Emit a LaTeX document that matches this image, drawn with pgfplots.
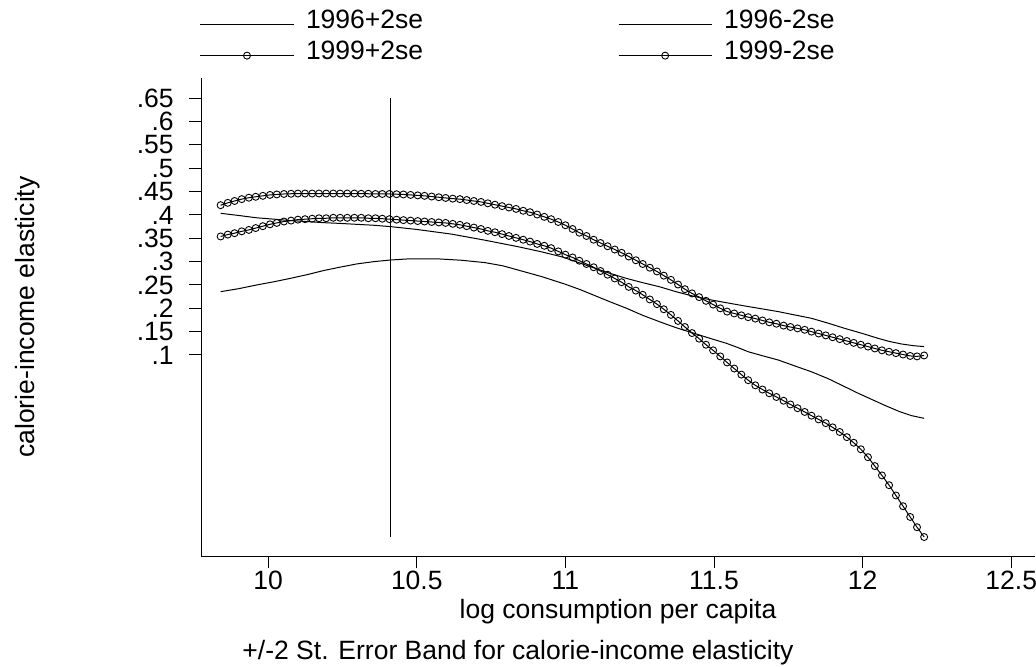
\documentclass[border=0pt]{standalone}
\usepackage{fontspec}
\setmainfont{Liberation Sans}
\usepackage{pgfplots}
\usepackage{pgfplotstable}
\pgfplotsset{compat=1.18}

% 1999 series: x, +2se (A), -2se (B)
\pgfplotstableread{
x A B
9.840 0.421 0.354
9.864 0.426 0.358
9.887 0.430 0.361
9.911 0.434 0.365
9.935 0.437 0.368
9.958 0.439 0.372
9.982 0.441 0.376
10.006 0.443 0.380
10.029 0.444 0.383
10.053 0.445 0.386
10.077 0.4455 0.388
10.100 0.446 0.390
10.124 0.446 0.391
10.148 0.446 0.392
10.171 0.446 0.393
10.195 0.446 0.393
10.219 0.446 0.394
10.242 0.446 0.394
10.266 0.446 0.394
10.290 0.446 0.394
10.313 0.4455 0.394
10.337 0.4455 0.393
10.361 0.445 0.393
10.384 0.445 0.392
10.408 0.445 0.391
10.432 0.4445 0.390
10.455 0.444 0.389
10.479 0.443 0.388
10.503 0.442 0.387
10.526 0.441 0.386
10.550 0.4395 0.385
10.574 0.438 0.384
10.597 0.4365 0.383
10.621 0.435 0.381
10.645 0.434 0.379
10.668 0.432 0.376
10.692 0.430 0.373
10.716 0.428 0.370
10.739 0.425 0.366
10.763 0.422 0.363
10.787 0.419 0.359
10.810 0.416 0.355
10.834 0.413 0.351
10.858 0.409 0.347
10.881 0.406 0.343
10.905 0.401 0.338
10.929 0.396 0.334
10.952 0.391 0.329
10.976 0.385 0.322
11.000 0.378 0.315
11.024 0.370 0.309
11.047 0.362 0.302
11.071 0.355 0.295
11.095 0.347 0.288
11.118 0.340 0.280
11.142 0.333 0.272
11.166 0.326 0.264
11.189 0.319 0.256
11.213 0.311 0.246
11.237 0.303 0.238
11.260 0.295 0.229
11.284 0.287 0.219
11.308 0.279 0.209
11.331 0.270 0.198
11.355 0.261 0.186
11.379 0.251 0.173
11.402 0.241 0.160
11.426 0.232 0.147
11.450 0.224 0.135
11.473 0.216 0.122
11.497 0.208 0.110
11.521 0.200 0.097
11.544 0.193 0.084
11.568 0.189 0.071
11.592 0.185 0.058
11.615 0.181 0.046
11.639 0.178 0.035
11.663 0.174 0.026
11.686 0.170 0.018
11.710 0.167 0.010
11.734 0.163 0.002
11.757 0.160 -0.006
11.781 0.157 -0.014
11.805 0.154 -0.022
11.828 0.150 -0.030
11.852 0.146 -0.038
11.876 0.142 -0.046
11.899 0.138 -0.055
11.923 0.134 -0.065
11.947 0.130 -0.076
11.970 0.126 -0.088
11.994 0.122 -0.102
12.018 0.118 -0.119
12.041 0.114 -0.138
12.065 0.110 -0.158
12.089 0.107 -0.179
12.112 0.104 -0.201
12.136 0.101 -0.224
12.160 0.098 -0.247
12.183 0.097 -0.269
12.207 0.099 -0.290
}\ninenine

% 1996 +2se
\pgfplotstableread{
x y
9.840 0.4036
9.900 0.399
9.961 0.394
10.020 0.391
10.073 0.388
10.130 0.386
10.185 0.3836
10.240 0.382
10.297 0.380
10.355 0.378
10.413 0.375
10.500 0.369
10.617 0.359
10.729 0.346
10.841 0.332
10.920 0.321
10.990 0.310
11.094 0.287
11.150 0.275
11.206 0.264
11.260 0.255
11.318 0.246
11.370 0.236
11.430 0.226
11.490 0.218
11.542 0.212
11.604 0.205
11.660 0.199
11.716 0.193
11.770 0.186
11.828 0.1786
11.885 0.168
11.940 0.157
12.000 0.146
12.052 0.1357
12.090 0.129
12.131 0.1236
12.170 0.120
12.207 0.118
}\sixup

% 1996 -2se
\pgfplotstableread{
x y
9.840 0.2357
9.900 0.242
9.961 0.250
10.020 0.257
10.073 0.264
10.130 0.272
10.185 0.2807
10.240 0.288
10.297 0.295
10.355 0.300
10.413 0.3036
10.466 0.3057
10.520 0.306
10.578 0.3057
10.650 0.303
10.729 0.298
10.790 0.291
10.841 0.282
10.920 0.268
10.998 0.252
11.050 0.240
11.094 0.2286
11.150 0.214
11.206 0.200
11.260 0.185
11.318 0.171
11.370 0.159
11.430 0.147
11.490 0.135
11.542 0.125
11.580 0.116
11.615 0.107
11.665 0.098
11.716 0.0893
11.770 0.077
11.828 0.064
11.885 0.049
11.940 0.032
11.985 0.018
12.030 0.005
12.075 -0.008
12.125 -0.0215
12.165 -0.030
12.207 -0.0357
}\sixlo

\begin{document}
\begin{tikzpicture}[font=\fontsize{13.25}{15.9}\selectfont]
\useasboundingbox (0,0) rectangle (518pt,333pt);
\begin{axis}[
  at={(100.5pt,55pt)}, anchor=south west,
  scale only axis, width=417pt, height=239pt,
  xmin=9.774, xmax=12.58, ymin=-0.3307, ymax=0.6935,
  axis lines=left, axis line style={-, line width=0.5pt, black},
  tick align=outside, major tick length=6pt,
  tick style={line width=0.5pt, black},
  minor tick num=0,
  xtick={10,10.5,11,11.5,12,12.5},
  xticklabels={10,10.5,11,11.5,12,12.5},
  ytick={0.1,0.15,0.2,0.25,0.3,0.35,0.4,0.45,0.5,0.55,0.6,0.65},
  yticklabels={.1,.15,.2,.25,.3,.35,.4,.45,.5,.55,.6,.65},
  tick label style={font=\fontsize{13.25}{15.9}\selectfont},
  xticklabel style={inner sep=0pt, anchor=north, yshift=-1.5pt},
  yticklabel style={inner sep=0pt, anchor=east, xshift=-7.5pt},
  clip=false,
  legend columns=2,
  legend style={at={(axis description cs:-0.0012,1.1423)}, anchor=north west,
    draw=none, fill=none, inner sep=0pt, outer sep=0pt,
    font=\fontsize{13.25}{15.9}\selectfont,
    cells={anchor=west}, nodes={inner sep=0pt},
    row sep=4.85pt,
    /tikz/every odd column/.append style={column sep=6pt},
    /tikz/every even column/.append style={column sep=97.5pt}},
  legend image code/.code={%
    \draw[#1, mark=none] (0pt,-1.85pt) -- (46.5pt,-1.85pt);
    \draw[#1, only marks] plot coordinates {(23.25pt,-1.85pt)};},
]
\addplot[black, line width=0.5pt, mark=none] table[x=x, y=y] {\sixup};
\addlegendentry{1996+2se}
\addplot[black, line width=0.5pt, mark=none] table[x=x, y=y] {\sixlo};
\addlegendentry{1996-2se}
\addplot[black, line width=0.5pt, mark=o, mark size=1.75pt, mark options={line width=0.45pt}] table[x=x, y=A] {\ninenine};
\addlegendentry{1999+2se}
\addplot[black, line width=0.5pt, mark=o, mark size=1.75pt, mark options={line width=0.45pt}] table[x=x, y=B] {\ninenine};
\addlegendentry{1999-2se}
\addplot[black, line width=0.5pt, mark=none, forget plot] coordinates {(10.413,-0.29) (10.413,0.65)};
\end{axis}
\node[rotate=90, anchor=base, inner sep=0pt] at (17pt,174.5pt) {calorie-income elasticity};
\node[anchor=base, inner sep=0pt] at (309pt,24pt) {log consumption per capita};
\node[anchor=base, inner sep=0pt] at (259pt,3.5pt) {+/-2 St. Error Band for calorie-income elasticity};
\end{tikzpicture}
\end{document}
